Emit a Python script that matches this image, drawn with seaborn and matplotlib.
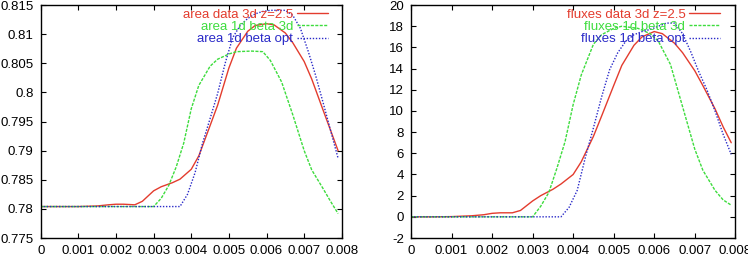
import numpy as np
import pandas as pd
import matplotlib
matplotlib.use("Agg")
import matplotlib.pyplot as plt
import seaborn as sns

sns.set_style("ticks")
plt.rcParams['font.family'] = ['Liberation Sans', 'DejaVu Sans']

# ---------------- data ----------------
x_red = [0, 0.0005, 0.001, 0.0015, 0.0018, 0.002, 0.0022, 0.0025, 0.0027, 0.003,
         0.0032, 0.0035, 0.0037, 0.004, 0.0042, 0.0045, 0.0047, 0.005, 0.0052, 0.0055,
         0.0057, 0.006, 0.0062, 0.0065, 0.0067, 0.007, 0.0072, 0.0075, 0.0077, 0.0079]
area_red = [0.7804, 0.7804, 0.7804, 0.7805, 0.7807, 0.7808, 0.7808, 0.7807, 0.7813, 0.7831,
            0.7838, 0.7845, 0.7851, 0.7868, 0.7891, 0.7943, 0.7978, 0.8042, 0.8076, 0.8105,
            0.8115, 0.8118, 0.8116, 0.8102, 0.8085, 0.8053, 0.8023, 0.7970, 0.7935, 0.7900]
flux_red = [0, 0, 0.02, 0.1, 0.2, 0.33, 0.38, 0.38, 0.6, 1.5,
            2.0, 2.6, 3.1, 4.0, 5.2, 7.6, 9.5, 12.4, 14.3, 16.2,
            17.0, 17.5, 17.3, 16.4, 15.5, 13.8, 12.4, 10.2, 8.5, 7.0]

x_green = [0, 0.0030, 0.0032, 0.0034, 0.0036, 0.0038, 0.0040, 0.0042, 0.0045, 0.0047,
           0.0050, 0.0052, 0.0056, 0.0059, 0.0061, 0.0064, 0.0067, 0.0070, 0.0072, 0.0075,
           0.0077, 0.0079]
area_green = [0.7804, 0.7804, 0.7818, 0.7840, 0.7872, 0.7913, 0.7972, 0.8012, 0.8045, 0.8057,
              0.8066, 0.8070, 0.8071, 0.8070, 0.8055, 0.8018, 0.7961, 0.7900, 0.7867, 0.7835,
              0.7813, 0.7792]
flux_green = [0, 0, 1.0, 2.3, 4.6, 7.1, 10.6, 13.4, 16.3, 17.2,
              17.8, 18.0, 17.8, 17.3, 16.6, 14.4, 10.4, 6.4, 4.4, 2.5,
              1.6, 1.1]

x_blue = [0, 0.0037, 0.0039, 0.0041, 0.0043, 0.0045, 0.0047, 0.0049, 0.0051, 0.0053,
          0.0055, 0.0057, 0.0059, 0.0061, 0.0063, 0.0065, 0.0067, 0.0069, 0.0071, 0.0073,
          0.0075, 0.0077, 0.0079]
area_blue = [0.7804, 0.7804, 0.7825, 0.7862, 0.7913, 0.7955, 0.7998, 0.8050, 0.8094, 0.8115,
             0.8127, 0.8135, 0.8139, 0.8141, 0.8141, 0.8141, 0.8132, 0.8110, 0.8072, 0.8030,
             0.7983, 0.7935, 0.7887]
flux_blue = [0, 0, 0.9, 2.5, 5.6, 8.4, 11.3, 13.9, 15.5, 16.6,
             17.2, 17.5, 17.7, 18.0, 18.3, 18.3, 17.3, 15.6, 13.7, 12.0,
             10.0, 7.8, 5.9]

area_labels = ["area data 3d z=2.5", "area 1d beta 3d", "area 1d beta opt"]
flux_labels = ["fluxes data 3d z=2.5", "fluxes 1d beta 3d", "fluxes 1d beta opt"]

left_yticks = [0.775, 0.78, 0.785, 0.79, 0.795, 0.8, 0.805, 0.81, 0.815]
left_yticklabels = ["0.775", "0.78", "0.785", "0.79", "0.795", "0.8", "0.805", "0.81", "0.815"]
right_yticks = [-2, 0, 2, 4, 6, 8, 10, 12, 14, 16, 18, 20]
xticks = [0, 0.001, 0.002, 0.003, 0.004, 0.005, 0.006, 0.007, 0.008]
xticklabels = ["0", "0.001", "0.002", "0.003", "0.004", "0.005", "0.006", "0.007", "0.008"]

colors = ["#e33c2e", "#3ddc3d", "#2a2ac8"]
dashes = ["-", (0, (2.2, 1.0)), (0, (1.0, 1.2))]

fig = plt.figure(figsize=(7.48, 2.62), dpi=100)
axL = fig.add_axes([0.0544, 0.0916, 0.4026, 0.889])
axR = fig.add_axes([0.5495, 0.0916, 0.4335, 0.889])


def draw(ax, series, labels, ylim, yticks, yticklabels):
    for (xs, ys), lab, c, ls in zip(series, labels, colors, dashes):
        sns.lineplot(x=xs, y=ys, ax=ax, color=c, linestyle=ls, linewidth=1.0,
                     label=lab, sort=False, estimator=None)
    ax.set_xlim(0, 0.008)
    ax.set_ylim(*ylim)
    ax.set_xticks(xticks)
    ax.set_xticklabels(xticklabels)
    ax.set_yticks(yticks)
    ax.set_yticklabels(yticklabels)
    ax.set_xlabel("")
    ax.set_ylabel("")
    ax.tick_params(direction="in", length=3.5, width=0.8, top=True, right=True,
                   labelsize=9.5, pad=5, colors="black")
    for s in ax.spines.values():
        s.set_visible(True)
        s.set_linewidth(1.0)
        s.set_color("black")
    leg = ax.legend(loc="upper right", bbox_to_anchor=(0.9536, 0.985),
                    frameon=False, markerfirst=False,
                    handlelength=2.35, handletextpad=0.3, labelspacing=0.0,
                    borderaxespad=0.0, borderpad=0.0, fontsize=9.5,
                    labelcolor="linecolor")
    return leg


draw(axL, [(x_red, area_red), (x_green, area_green), (x_blue, area_blue)],
     area_labels, (0.775, 0.815), left_yticks, left_yticklabels)
draw(axR, [(x_red, flux_red), (x_green, flux_green), (x_blue, flux_blue)],
     flux_labels, (-2, 20), right_yticks, [str(v) for v in right_yticks])

fig.savefig("out.png", dpi=100)
